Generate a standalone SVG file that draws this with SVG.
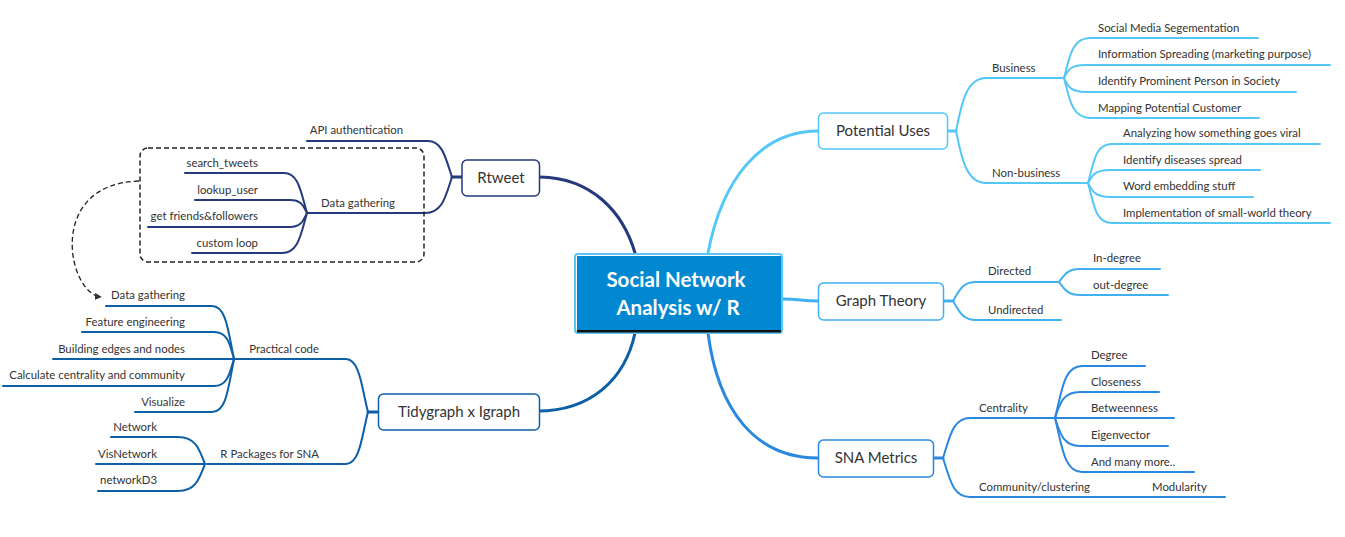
<svg xmlns="http://www.w3.org/2000/svg" width="1345" height="537" viewBox="0 0 1345 537">
<defs>
<style>
text{font-family:Lato,"Liberation Sans",sans-serif;fill:#333}
.lf{font-size:11.4px}
.nt{font-size:15px;text-anchor:middle}
.e{text-anchor:end}
.c{fill:none;stroke-linecap:round;stroke-linejoin:round}
.m{stroke-width:3}
.s{stroke-width:2}
.box{fill:#fff;stroke-width:1.5}
.p1{stroke:#55c7f7}
.p2{stroke:#3fb0f2}
.p3{stroke:#2a88df}
.p4{stroke:#0d5fa6}
.p5{stroke:#243a7d}
</style>
<marker id="arr" viewBox="0 0 8 8" refX="7" refY="4" markerWidth="7" markerHeight="7" markerUnits="userSpaceOnUse" orient="auto">
<path d="M0,0 L8,4 L0,8 Z" fill="#333"/>
</marker>
</defs>
<rect width="1345" height="537" fill="#fff"/>

<g id="connectors">
<!-- main branches -->
<path class="c m p5" d="M540,177 C592,178 623,212 635,253"/>
<path class="c m p1" d="M708,253 C722,180 760,131 818,131"/>
<path class="c m p2" d="M783,299 C800,299 801,301 818,301"/>
<path class="c m p3" d="M708,333 C718,410 755,458 818,458"/>
<path class="c m p4" d="M635,333 C625,380 590,411 538,411"/>

<!-- Potential Uses -->
<g class="c s p1">
<path class="m" d="M948,131 L956,131"/>
<path d="M956,131 C961,108 965,78 986,78 L1064,78"/>
<path d="M956,131 C961,154 965,183 986,183 L1088,183"/>
<path d="M1064,78 C1069,60 1071,38 1090,38 L1258,38"/>
<path d="M1064,78 C1068,70 1070,65 1086,65 L1330,65"/>
<path d="M1064,78 C1068,86 1070,92 1086,92 L1296,92"/>
<path d="M1064,78 C1069,96 1071,118 1090,118 L1259,118"/>
<path d="M1088,183 C1094,162 1095,144 1112,144 L1320,144"/>
<path d="M1088,183 C1092,176 1094,170 1110,170 L1260,170"/>
<path d="M1088,183 C1092,190 1094,197 1110,197 L1253,197"/>
<path d="M1088,183 C1094,204 1095,223 1112,223 L1330,223"/>
</g>

<!-- Graph Theory -->
<g class="c s p2">
<path class="m" d="M944,301 L953,301"/>
<path d="M953,301 C959,291 962,282 976,282 L1059,282"/>
<path d="M953,301 C959,311 962,320 976,320 L1061,320"/>
<path d="M1059,282 C1065,274 1068,269 1080,269 L1160,269"/>
<path d="M1059,282 C1065,290 1068,295 1080,295 L1168,295"/>
</g>

<!-- SNA Metrics -->
<g class="c s p3">
<path class="m" d="M934,458 L943,458"/>
<path d="M943,458 C950,436 953,418 970,418 L1055,418"/>
<path d="M943,458 C950,480 953,497 970,497 L1225,497"/>
<path d="M1055,418 C1062,390 1064,366 1082,366 L1145,366"/>
<path d="M1055,418 C1060,403 1063,392 1080,392 L1159,392"/>
<path d="M1055,418 L1174,418"/>
<path d="M1055,418 C1060,433 1063,446 1080,446 L1168,446"/>
<path d="M1055,418 C1062,446 1064,472 1082,472 L1194,472"/>
</g>

<!-- Rtweet -->
<g class="c s p5">
<path class="m" d="M462,177 L452,177"/>
<path d="M452,177 C446,160 443,141 428,141 L307,141"/>
<path d="M452,177 C446,195 443,213 425,213 L307,213"/>
<path d="M307,213 C301,193 299,173 284,173 L185,173"/>
<path d="M307,213 C303,205 301,200 290,200 L195,200"/>
<path d="M307,213 C303,221 301,227 290,227 L148,227"/>
<path d="M307,213 C301,233 299,253 282,253 L192,253"/>
</g>

<!-- Tidygraph -->
<g class="c s p4">
<path class="m" d="M378,412 L368,412"/>
<path d="M368,412 C362,390 360,359 346,359 L234,359"/>
<path d="M368,412 C362,435 360,464 346,464 L207,464"/>
<path d="M234,359 C228,330 226,306 212,306 L106,306"/>
<path d="M234,359 C230,345 228,332 214,332 L82,332"/>
<path d="M234,359 L53,359"/>
<path d="M234,359 C230,372 228,386 214,386 L3,386"/>
<path d="M234,359 C228,390 226,412 212,412 L135,412"/>
<path d="M205,464 C199,448 195,437 178,437 L111,437"/>
<path d="M205,464 L96,464"/>
<path d="M205,464 C199,480 195,491 178,491 L98,491"/>
</g>

<!-- dashed boundary and relation -->
<rect x="140" y="148" width="284" height="114" rx="8" fill="none" stroke="#222" stroke-width="1.5" stroke-dasharray="5,3"/>
<path d="M139,181 C45,184 68,294 101,297" fill="none" stroke="#222" stroke-width="1.3" stroke-dasharray="5,3" marker-end="url(#arr)"/>
</g>

<!-- central node -->
<g id="center">
<rect x="575" y="254" width="207" height="79" rx="3" fill="#fff" stroke="#5cc6f6" stroke-width="2"/>
<rect x="577" y="256" width="204" height="76" fill="#0288d1"/>
<rect x="577" y="330" width="204" height="2.5" fill="#111"/>
<text x="676" y="287" text-anchor="middle" style="font-size:20.5px;font-weight:bold;fill:#fff">Social Network</text>
<text x="678" y="315" text-anchor="middle" style="font-size:20.5px;font-weight:bold;fill:#fff">Analysis w/ R</text>
</g>

<!-- main topics -->
<g id="potential-uses"><rect class="box p1" x="818.5" y="113" width="129" height="36" rx="5"/><text class="nt" x="883" y="136">Potential Uses</text></g>
<g id="graph-theory"><rect class="box p2" x="818.5" y="283" width="125" height="37" rx="5"/><text class="nt" x="881" y="306">Graph Theory</text></g>
<g id="sna-metrics"><rect class="box p3" x="818.5" y="440" width="115" height="37" rx="5"/><text class="nt" x="876" y="463">SNA Metrics</text></g>
<g id="rtweet"><rect class="box p5" x="462" y="160" width="77.5" height="36" rx="5"/><text class="nt" x="501" y="183">Rtweet</text></g>
<g id="tidygraph"><rect class="box p4" x="378.5" y="394" width="161" height="36" rx="5"/><text class="nt" x="459" y="417">Tidygraph x Igraph</text></g>

<!-- Potential Uses subtopics -->
<g id="business"><text class="lf" x="992" y="72">Business</text></g>
<g id="non-business"><text class="lf" x="992" y="177">Non-business</text></g>
<g id="pu1"><text class="lf" x="1098" y="32">Social Media Segementation</text></g>
<g id="pu2"><text class="lf" x="1098" y="58">Information Spreading (marketing purpose)</text></g>
<g id="pu3"><text class="lf" x="1098" y="85">Identify Prominent Person in Society</text></g>
<g id="pu4"><text class="lf" x="1098" y="112">Mapping Potential Customer</text></g>
<g id="nb1"><text class="lf" x="1123" y="137">Analyzing how something goes viral</text></g>
<g id="nb2"><text class="lf" x="1123" y="164">Identify diseases spread</text></g>
<g id="nb3"><text class="lf" x="1123" y="190">Word embedding stuff</text></g>
<g id="nb4"><text class="lf" x="1123" y="217">Implementation of small-world theory</text></g>

<!-- Graph Theory subtopics -->
<g id="directed"><text class="lf" x="988" y="275">Directed</text></g>
<g id="undirected"><text class="lf" x="988" y="314">Undirected</text></g>
<g id="in-degree"><text class="lf" x="1093" y="262">In-degree</text></g>
<g id="out-degree"><text class="lf" x="1093" y="289">out-degree</text></g>

<!-- SNA subtopics -->
<g id="centrality"><text class="lf" x="979" y="412">Centrality</text></g>
<g id="community"><text class="lf" x="979" y="491">Community/clustering</text></g>
<g id="modularity"><text class="lf" x="1152" y="491">Modularity</text></g>
<g id="degree"><text class="lf" x="1091" y="359">Degree</text></g>
<g id="closeness"><text class="lf" x="1091" y="386">Closeness</text></g>
<g id="betweenness"><text class="lf" x="1091" y="412">Betweenness</text></g>
<g id="eigenvector"><text class="lf" x="1091" y="439">Eigenvector</text></g>
<g id="many-more"><text class="lf" x="1091" y="466">And many more..</text></g>

<!-- Rtweet subtopics -->
<g id="api-auth"><text class="lf e" x="403" y="134">API authentication</text></g>
<g id="rt-data-gathering"><text class="lf e" x="395" y="207">Data gathering</text></g>
<g id="search-tweets"><text class="lf e" x="258" y="167">search_tweets</text></g>
<g id="lookup-user"><text class="lf e" x="258" y="194">lookup_user</text></g>
<g id="get-friends"><text class="lf e" x="258" y="220">get friends&amp;followers</text></g>
<g id="custom-loop"><text class="lf e" x="258" y="247">custom loop</text></g>

<!-- Tidygraph subtopics -->
<g id="practical-code"><text class="lf e" x="319" y="353">Practical code</text></g>
<g id="r-packages"><text class="lf e" x="319" y="458">R Packages for SNA</text></g>
<g id="pc-data-gathering"><text class="lf e" x="185" y="299">Data gathering</text></g>
<g id="feature-eng"><text class="lf e" x="185" y="326">Feature engineering</text></g>
<g id="building-edges"><text class="lf e" x="185" y="353">Building edges and nodes</text></g>
<g id="calc-centrality"><text class="lf e" x="185" y="379">Calculate centrality and community</text></g>
<g id="visualize"><text class="lf e" x="185" y="406">Visualize</text></g>
<g id="network"><text class="lf e" x="157" y="431">Network</text></g>
<g id="visnetwork"><text class="lf e" x="157" y="458">VisNetwork</text></g>
<g id="networkd3"><text class="lf e" x="157" y="484">networkD3</text></g>
</svg>
